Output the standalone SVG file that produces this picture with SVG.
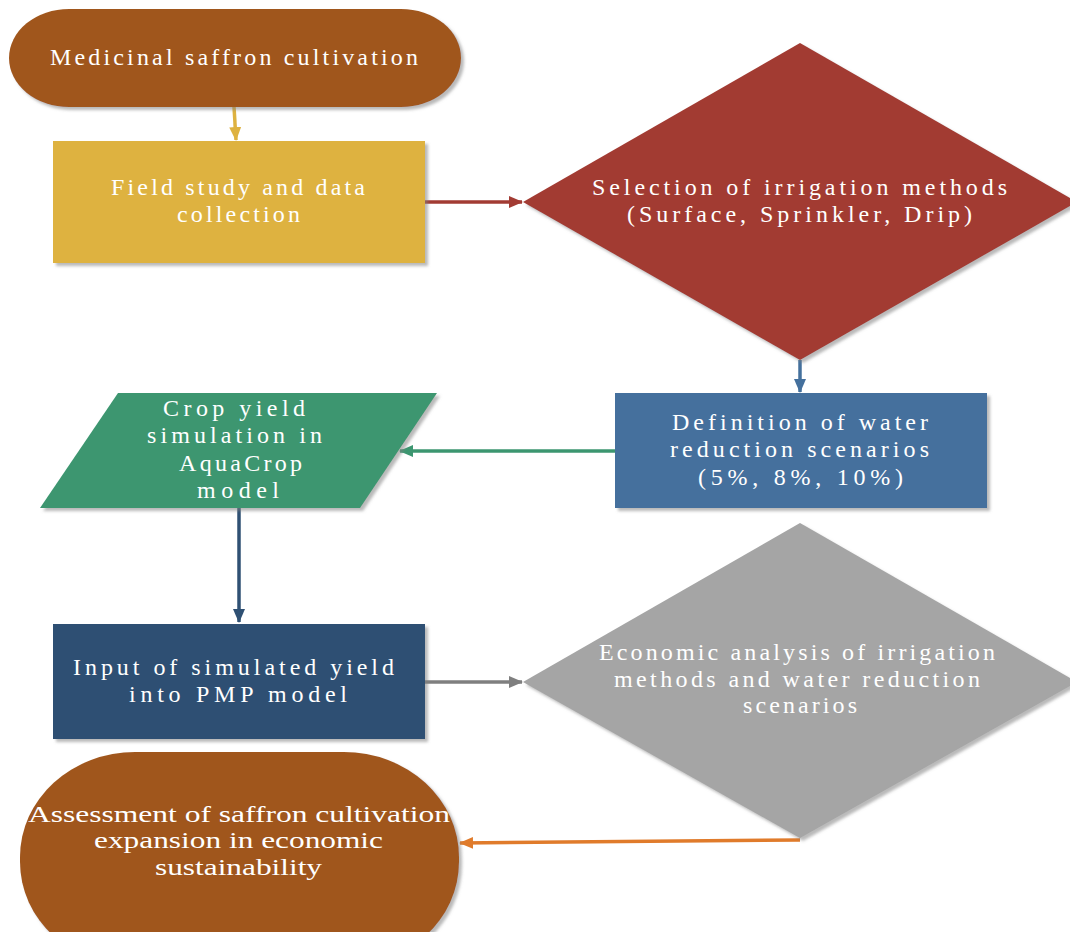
<svg xmlns="http://www.w3.org/2000/svg" width="1070" height="932" viewBox="0 0 1070 932">
<defs>
<filter id="sh" x="-10%" y="-10%" width="120%" height="120%">
<feDropShadow dx="3" dy="3" stdDeviation="1.5" flood-color="#808080" flood-opacity="0.55"/>
</filter>
<marker id="mGold" markerUnits="userSpaceOnUse" markerWidth="14" markerHeight="14" viewBox="0 0 14 14" refX="13" refY="7" orient="auto"><path d="M0,1 L14,7 L0,13 Z" fill="#DEB240"/></marker>
<marker id="mRed" markerUnits="userSpaceOnUse" markerWidth="14" markerHeight="14" viewBox="0 0 14 14" refX="13" refY="7" orient="auto"><path d="M0,1 L14,7 L0,13 Z" fill="#A23B33"/></marker>
<marker id="mBlue" markerUnits="userSpaceOnUse" markerWidth="14" markerHeight="14" viewBox="0 0 14 14" refX="13" refY="7" orient="auto"><path d="M0,1 L14,7 L0,13 Z" fill="#44709D"/></marker>
<marker id="mGreen" markerUnits="userSpaceOnUse" markerWidth="14" markerHeight="14" viewBox="0 0 14 14" refX="13" refY="7" orient="auto"><path d="M0,1 L14,7 L0,13 Z" fill="#3C9670"/></marker>
<marker id="mNavy" markerUnits="userSpaceOnUse" markerWidth="14" markerHeight="14" viewBox="0 0 14 14" refX="13" refY="7" orient="auto"><path d="M0,1 L14,7 L0,13 Z" fill="#2F5073"/></marker>
<marker id="mGray" markerUnits="userSpaceOnUse" markerWidth="14" markerHeight="14" viewBox="0 0 14 14" refX="13" refY="7" orient="auto"><path d="M0,1 L14,7 L0,13 Z" fill="#7F7F7F"/></marker>
<marker id="mOrange" markerUnits="userSpaceOnUse" markerWidth="14" markerHeight="14" viewBox="0 0 14 14" refX="13" refY="7" orient="auto"><path d="M0,1 L14,7 L0,13 Z" fill="#E07B2B"/></marker>
</defs>
<style>
.t{font-family:"Liberation Serif","Times New Roman",serif;font-size:24px;fill:#FFFFFF;text-anchor:middle}
.c{fill:none;stroke-width:3.5}
</style>
<rect width="1070" height="932" fill="#FFFFFF"/>
<g id="connectors">
<line class="c" x1="234" y1="107" x2="236" y2="140" stroke="#DEB240" marker-end="url(#mGold)"/>
<line class="c" x1="425" y1="202" x2="522" y2="202" stroke="#A23B33" marker-end="url(#mRed)"/>
<line class="c" x1="800" y1="360" x2="800" y2="392" stroke="#44709D" marker-end="url(#mBlue)"/>
<line class="c" x1="615" y1="451" x2="400" y2="451" stroke="#3C9670" marker-end="url(#mGreen)"/>
<line class="c" x1="239" y1="508" x2="239" y2="622" stroke="#2F5073" stroke-width="5" marker-end="url(#mNavy)"/>
<line class="c" x1="425" y1="682" x2="522" y2="682" stroke="#7F7F7F" marker-end="url(#mGray)"/>
<line class="c" x1="800" y1="840" x2="460" y2="843" stroke="#E07B2B" marker-end="url(#mOrange)"/>
</g>
<g id="n1">
<rect x="9" y="9" width="452" height="98" rx="60" ry="49" fill="#A0571E" filter="url(#sh)"/>
<text class="t" x="234" y="65" textLength="368" lengthAdjust="spacing">Medicinal saffron cultivation</text>
</g>
<g id="n2">
<rect x="53" y="141" width="372" height="122" fill="#DEB240" filter="url(#sh)"/>
<text class="t" x="238" y="195" textLength="254" lengthAdjust="spacing">Field study and data</text>
<text class="t" x="238.5" y="222" textLength="123" lengthAdjust="spacing">collection</text>
</g>
<g id="n3">
<polygon points="523,202 800,43 1077,202 800,360" fill="#A23B33" filter="url(#sh)"/>
<text class="t" x="799.5" y="195" textLength="415" lengthAdjust="spacing">Selection of irrigation methods</text>
<text class="t" x="799.5" y="222" textLength="345" lengthAdjust="spacing">(Surface, Sprinkler, Drip)</text>
</g>
<g id="n4">
<rect x="615" y="393" width="372" height="115" fill="#44709D" filter="url(#sh)"/>
<text class="t" x="800" y="430" textLength="256" lengthAdjust="spacing">Definition of water</text>
<text class="t" x="799.5" y="457" textLength="259" lengthAdjust="spacing">reduction scenarios</text>
<text class="t" x="800.5" y="485" textLength="205" lengthAdjust="spacing">(5%, 8%, 10%)</text>
</g>
<g id="n5">
<polygon points="118,393 437,393 360,508 40,508" fill="#3C9670" filter="url(#sh)"/>
<text class="t" x="234" y="416" textLength="142" lengthAdjust="spacing">Crop yield</text>
<text class="t" x="234.5" y="443" textLength="175" lengthAdjust="spacing">simulation in</text>
<text class="t" x="240.5" y="471" textLength="123" lengthAdjust="spacing">AquaCrop</text>
<text class="t" x="238" y="498" textLength="82" lengthAdjust="spacing">model</text>
</g>
<g id="n6">
<rect x="53" y="624" width="372" height="115" fill="#2F5073" filter="url(#sh)"/>
<text class="t" x="233.5" y="675" textLength="321" lengthAdjust="spacing">Input of simulated yield</text>
<text class="t" x="238" y="702" textLength="218" lengthAdjust="spacing">into PMP model</text>
</g>
<g id="n7">
<polygon points="523,682 800,523 1077,682 800,838" fill="#A5A5A5" filter="url(#sh)"/>
<text class="t" x="797" y="660" textLength="396" lengthAdjust="spacing">Economic analysis of irrigation</text>
<text class="t" x="797" y="687" textLength="366" lengthAdjust="spacing">methods and water reduction</text>
<text class="t" x="800" y="713" textLength="114" lengthAdjust="spacing">scenarios</text>
</g>
<g id="n8">
<rect x="20" y="752" width="439" height="215" rx="115" ry="105" fill="#A0571E" filter="url(#sh)"/>
<text class="t" x="239" y="822" font-size="25" textLength="422" lengthAdjust="spacingAndGlyphs">Assessment of saffron cultivation</text>
<text class="t" x="238.5" y="848" font-size="25" textLength="289" lengthAdjust="spacingAndGlyphs">expansion in economic</text>
<text class="t" x="238.5" y="875" font-size="25" textLength="167" lengthAdjust="spacingAndGlyphs">sustainability</text>
</g>
</svg>
